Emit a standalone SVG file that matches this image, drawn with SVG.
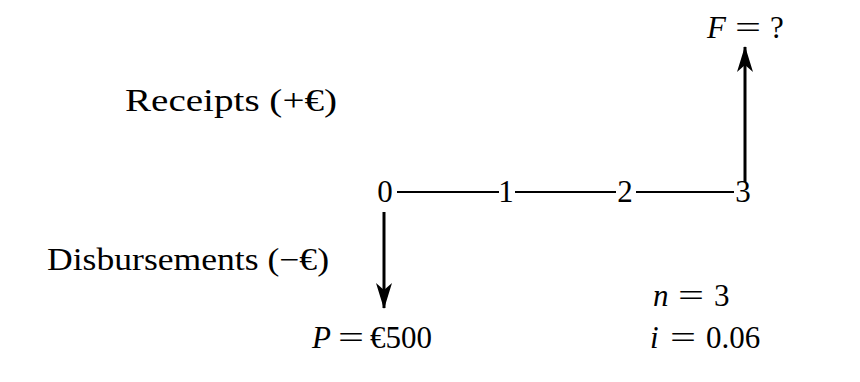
<svg xmlns="http://www.w3.org/2000/svg" width="860" height="382" viewBox="0 0 860 382">
<defs>
<marker id="ah" viewBox="0 0 26 16" refX="25" refY="8" markerWidth="26" markerHeight="16" markerUnits="userSpaceOnUse" orient="auto">
<path d="M0,0 L26,8 L0,16 L7,8 Z" fill="#000"/>
</marker>
<style>
text{font-family:"Liberation Serif","Times New Roman",serif;font-size:31px;fill:#000}
.it{font-style:italic}
.ln{stroke:#000;stroke-width:2;fill:none}
.ar{stroke:#000;stroke-width:3;fill:none}
</style>
</defs>
<rect width="860" height="382" fill="#fff"/>
<g id="connectors">
<line class="ln" x1="397" y1="192" x2="499" y2="192"/>
<line class="ln" x1="515" y1="192" x2="616" y2="192"/>
<line class="ln" x1="636" y1="192" x2="734" y2="192"/>
<line class="ar" x1="384" y1="212" x2="384" y2="308" marker-end="url(#ah)"/>
<line class="ar" x1="745" y1="182" x2="745" y2="47" marker-end="url(#ah)"/>
</g>
<g id="t0"><text x="385" y="202" text-anchor="middle">0</text></g>
<g id="t1"><text x="506" y="202" text-anchor="middle">1</text></g>
<g id="t2"><text x="625" y="202" text-anchor="middle">2</text></g>
<g id="t3"><text x="743" y="202" text-anchor="middle">3</text></g>
<g id="future"><text x="707" y="38" class="it">F</text><text x="735" y="38" textLength="26" lengthAdjust="spacingAndGlyphs">=</text><text x="770" y="38">?</text></g>
<g id="receipts"><text x="125" y="111" textLength="212" lengthAdjust="spacingAndGlyphs">Receipts (+€)</text></g>
<g id="disbursements"><text x="47" y="270" textLength="282" lengthAdjust="spacingAndGlyphs">Disbursements (−€)</text></g>
<g id="present"><text x="312" y="348" class="it">P</text><text x="338" y="348" textLength="26" lengthAdjust="spacingAndGlyphs">=</text><text x="370" y="348">€500</text></g>
<g id="n"><text x="653" y="306" class="it">n</text><text x="678" y="306" textLength="26" lengthAdjust="spacingAndGlyphs">=</text><text x="714" y="306">3</text></g>
<g id="i"><text x="650" y="348" class="it">i</text><text x="670" y="348" textLength="26" lengthAdjust="spacingAndGlyphs">=</text><text x="706" y="348">0.06</text></g>
</svg>
